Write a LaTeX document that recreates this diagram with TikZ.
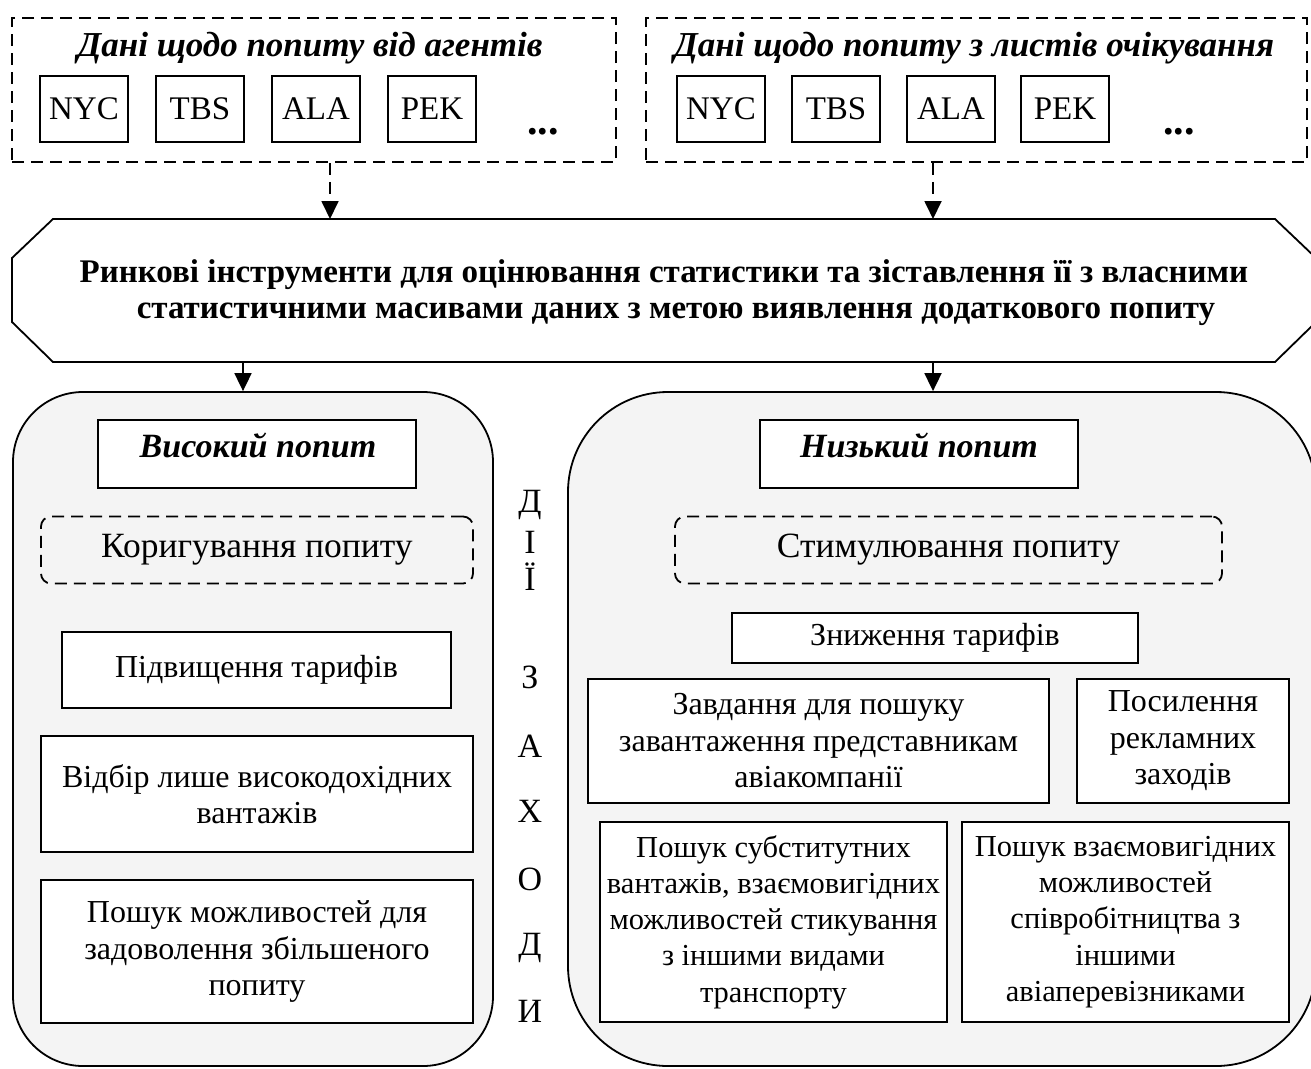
\documentclass[tikz,border=0pt]{standalone}
\usepackage{fontspec}
\setmainfont{Liberation Serif}
\usetikzlibrary{arrows.meta,calc}
\definecolor{panel}{HTML}{F4F4F4}
\newcommand\bodyfont{\fontsize{32}{36.5}\selectfont}
\newcommand\smallbodyfont{\fontsize{30.5}{36.3}\selectfont}
\newcommand\dashfont{\fontsize{35.5}{40}\selectfont}
\newcommand\titlefont{\fontsize{35}{40}\selectfont\bfseries\itshape}
\newcommand\headfont{\fontsize{34}{40}\selectfont\bfseries\itshape}
\newcommand\hexfont{\fontsize{33}{36}\selectfont\bfseries}
\newcommand\codefont{\fontsize{33}{38}\selectfont}
\newcommand\dotsfont{\fontsize{42}{44}\selectfont\bfseries}
\newcommand\letterfont{\fontsize{34}{38}\selectfont}
\tikzset{
  lw/.style={line width=1.8pt},
  dashedbox/.style={draw, line width=1.8pt, dash pattern=on 12pt off 7pt, inner sep=0pt},
  codebox/.style={draw, line width=1.8pt, fill=white, inner sep=0pt, minimum width=88pt, minimum height=66pt, font=\codefont},
  panelbox/.style={draw, line width=1.8pt, fill=panel, inner sep=0pt},
  plainbox/.style={draw, line width=1.8pt, fill=white, inner sep=0pt, align=center, font=\bodyfont},
  dashround/.style={draw, line width=1.8pt, dash pattern=on 12pt off 7pt, rounded corners=10pt, inner sep=0pt, align=center, font=\dashfont},
  arr/.style={line width=1.8pt, -{Triangle[width=17pt,length=18pt]}},
  darr/.style={arr, dash pattern=on 12pt off 7pt},
  letter/.style={font=\letterfont, anchor=base, inner sep=0pt},
}
\begin{document}
\begin{tikzpicture}[x=1pt,y=-1pt]
\useasboundingbox (0,0) rectangle (1311,1068);
\fill[white] (0,0) rectangle (1311,1068);
\clip (0,0) rectangle (1311,1068);

% top dashed groups
\node[dashedbox, minimum width=604pt, minimum height=144pt] (dl) at (314,90) {};
\node[dashedbox, minimum width=661pt, minimum height=144pt] (dr) at (976.5,90) {};
\node[font=\titlefont, anchor=base, inner sep=0pt] (tl) at (310,56) {Дані щодо попиту від агентів};
\node[font=\titlefont, anchor=base, inner sep=0pt] (tr) at (974,56) {Дані щодо попиту з листів очікування};

\node[codebox] (a1) at (84,109) {NYC};
\node[codebox] (a2) at (200,109) {TBS};
\node[codebox] (a3) at (316,109) {ALA};
\node[codebox] (a4) at (432,109) {PEK};
\node[font=\dotsfont, anchor=base, inner sep=0pt] (a5) at (543,134) {...};

\node[codebox] (b1) at (721,109) {NYC};
\node[codebox] (b2) at (836,109) {TBS};
\node[codebox] (b3) at (951,109) {ALA};
\node[codebox] (b4) at (1065,109) {PEK};
\node[font=\dotsfont, anchor=base, inner sep=0pt] (b5) at (1179,134) {...};

% hexagon
\draw[lw, fill=white] (53,219) -- (1275,219) -- (1316,258) -- (1316,322) -- (1275,362) -- (53,362) -- (12,322) -- (12,258) -- cycle;
\node[minimum width=1304pt, minimum height=143pt, inner sep=0pt, font=\hexfont, align=center] (hex) at (664,293)
  {Ринкові інструменти для оцінювання статистики та зіставлення її з власними\\
   \hspace*{24pt}статистичними масивами даних з метою виявлення додаткового попиту};
\coordinate (hexN) at (664,219);
\coordinate (hexS) at (664,362);

\draw[darr] (330,0 |- dl.south) -- (330,0 |- hexN);
\draw[darr] (933,0 |- dr.south) -- (933,0 |- hexN);

% panels
\node[panelbox, rounded corners=70pt, minimum width=480pt, minimum height=674pt] (L) at (253,729) {};
\node[panelbox, rounded corners=100pt, minimum width=748pt, minimum height=674pt] (R) at (942,729) {};

\draw[arr] (243,0 |- hexS) -- (243,0 |- L.north);
\draw[arr] (933,0 |- hexS) -- (933,0 |- R.north);

% left panel content
\node[plainbox, minimum width=318pt, minimum height=68pt] (vys) at (257,454) {};
\node[font=\headfont, anchor=base, inner sep=0pt] (vyst) at (258,457) {Високий попит};
\node[dashround, minimum width=432pt, minimum height=67pt] (kor) at (257,550) {Коригування попиту};
\node[plainbox, minimum width=389pt, minimum height=76pt] (pidv) at (256.5,670) {Підвищення тарифів};
\node[plainbox, minimum width=432pt, minimum height=116pt] (vidb) at (257,794) {Відбір лише високодохідних\\вантажів};
\node[plainbox, minimum width=432pt, minimum height=143pt] (posh) at (257,951.5) {Пошук можливостей для\\задоволення збільшеного\\попиту};

% right panel content
\node[plainbox, minimum width=318pt, minimum height=68pt] (nyz) at (919,454) {};
\node[font=\headfont, anchor=base, inner sep=0pt] (nyzt) at (919,457) {Низький попит};
\node[dashround, minimum width=547pt, minimum height=67pt] (stym) at (948.5,550) {Стимулювання попиту};
\node[plainbox, minimum width=406pt, minimum height=50pt] (znyzh) at (935,638) {Зниження тарифів};
\node[plainbox, minimum width=461pt, minimum height=124pt] (zavd) at (818.5,741) {Завдання для пошуку\\завантаження представникам\\авіакомпанії};
\node[plainbox, minimum width=212pt, minimum height=124pt] (posyl) at (1183,741) {Посилення\\рекламних\\заходів};
\node[plainbox, font=\smallbodyfont, minimum width=347pt, minimum height=200pt] (subst) at (773.5,922) {Пошук субститутних\\вантажів, взаємовигідних\\можливостей стикування\\з іншими видами\\транспорту};
\node[plainbox, font=\smallbodyfont, minimum width=327pt, minimum height=200pt] (vzaem) at (1125.5,922) {Пошук взаємовигідних\\можливостей\\співробітництва з\\іншими\\авіаперевізниками};

% vertical letters
\node[letter] (c1) at (530,512) {Д};
\node[letter] (c2) at (530,553) {І};
\node[letter] (c3) at (530,590) {Ї};
\node[letter] (c4) at (530,688) {З};
\node[letter] (c5) at (530,757) {А};
\node[letter] (c6) at (530,822) {Х};
\node[letter] (c7) at (530,890) {О};
\node[letter] (c8) at (530,955) {Д};
\node[letter] (c9) at (530,1022) {И};
\end{tikzpicture}
\end{document}
